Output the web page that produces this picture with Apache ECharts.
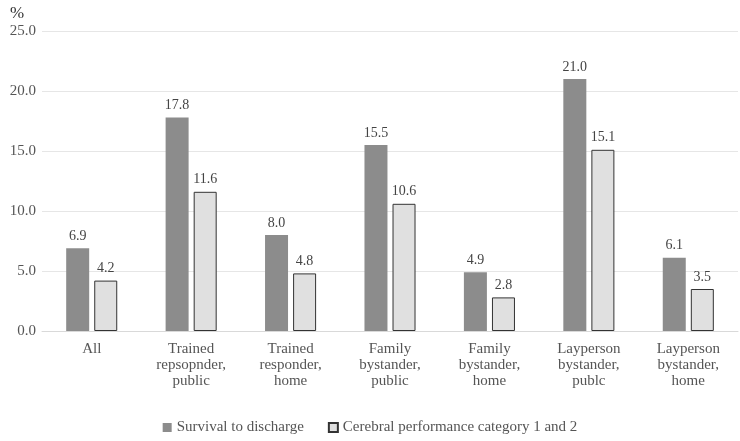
<!DOCTYPE html>
<html>
<head>
<meta charset="utf-8">
<script src="https://cdn.jsdelivr.net/npm/echarts@6/dist/echarts.min.js"></script>
<style>
  html, body { margin: 0; padding: 0; background: #fff; }
  #chart { width: 740px; height: 441px; }
</style>
</head>
<body>
<div id="chart"></div>
<script>
var categories = ['All', 'Trained\nrepsopnder,\npublic', 'Trained\nresponder,\nhome', 'Family\nbystander,\npublic',
                  'Family\nbystander,\nhome', 'Layperson\nbystander,\npublc', 'Layperson\nbystander,\nhome'];
var survival = [6.9, 17.8, 8.0, 15.5, 4.9, 21.0, 6.1];
var cerebral = [4.2, 11.6, 4.8, 10.6, 2.8, 15.1, 3.5];
var seriesNames = ['Survival to discharge', 'Cerebral performance category 1 and 2'];

var font = 'Liberation Serif';
var chart = echarts.init(document.getElementById('chart'));
chart.setOption({
    animation: false,
    textStyle: { fontFamily: font },
    grid: { left: 42, right: 2, top: 31, bottom: 110 },
    title: {
        text: '%', left: 5, top: 0,
        textStyle: { fontFamily: font, fontSize: 17, fontWeight: 'normal', color: '#333' }
    },
    legend: {
        bottom: 1, left: 'center',
        itemWidth: 9, itemHeight: 9, itemGap: 24,
        textStyle: { fontFamily: font, fontSize: 15, color: '#555' },
        data: [
            { name: seriesNames[0], icon: 'rect' },
            { name: seriesNames[1], icon: 'rect' }
        ]
    },
    xAxis: {
        type: 'category',
        data: categories,
        axisTick: { show: false },
        axisLine: { lineStyle: { color: '#d9d9d9' } },
        axisLabel: { interval: 0, fontSize: 15, color: '#555', lineHeight: 16, margin: 10 }
    },
    yAxis: {
        type: 'value',
        min: 0, max: 25, interval: 5,
        axisLabel: { fontSize: 15, color: '#555', margin: 6,
            formatter: function (v) { return v.toFixed(1); } },
        splitLine: { lineStyle: { color: '#e6e6e6' } }
    },
    series: [
        {
            name: seriesNames[0], type: 'bar', data: survival,
            barWidth: 23, barGap: '22%',
            itemStyle: { color: '#8c8c8c' },
            label: { show: true, position: 'top', fontSize: 14, color: '#444',
                formatter: function (p) { return p.value.toFixed(1); } }
        },
        {
            name: seriesNames[1], type: 'bar', data: cerebral,
            barWidth: 23,
            itemStyle: { color: '#e0e0e0', borderColor: '#333', borderWidth: 1 },
            label: { show: true, position: 'top', fontSize: 14, color: '#444',
                formatter: function (p) { return p.value.toFixed(1); } }
        }
    ]
});
</script>
</body>
</html>
